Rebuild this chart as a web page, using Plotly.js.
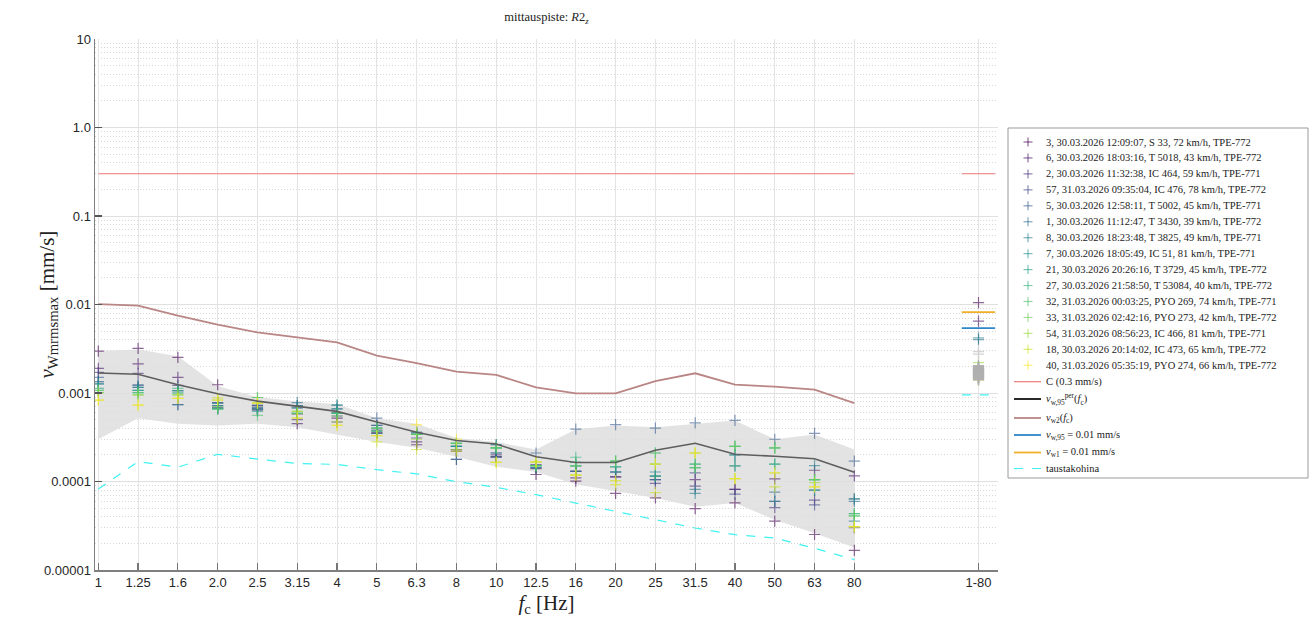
<!DOCTYPE html>
<html><head><meta charset="utf-8">
<script src="https://cdn.plot.ly/plotly-3.0.1.min.js"></script>
<style>html,body{margin:0;padding:0;background:#fff}</style>
</head><body><div id="chart" style="width:1313px;height:624px"></div>
<script>
// ---- categories ----
const bands = ['1','1.25','1.6','2.0','2.5','3.15','4','5','6.3','8','10','12.5','16','20','25','31.5','40','50','63','80'];
const totalLabel = '1-80';

// ---- pass series: 20 band values + 1-80 value ----
const p3  = [0.00298,0.0032,0.00253,0.00124,0.00072,0.00058,0.00052,0.00036,0.00026,0.00022,0.00019,0.00012,0.000101,0.0000733,0.0000654,0.0000495,0.0000574,0.0000357,0.0000252,0.0000167,0.0105];
const p6  = [0.0019,0.00213,0.0015,0.00078,0.00066,0.00045,0.00047,0.00035,0.00028,0.00023,0.00019,0.00014,0.00011,0.000113,0.000105,0.000105,0.0000815,0.000107,0.000134,0.000116,0.0065];
const p2  = [0.00171,0.00167,0.00122,0.00068,0.00064,0.0005,0.00055,0.00038,0.00031,0.000178,0.0002,0.000155,0.00013,0.000113,0.000095,0.0000885,0.0000815,0.0000506,0.0000615,0.00003,0.0019];
const p57 = [0.00134,0.00123,0.00106,0.00072,0.00069,0.00068,0.0006,0.00043,0.00034,0.00025,0.00021,0.000143,0.00013,0.000128,0.000115,0.000125,0.000072,0.0000597,0.0000545,0.0000637,0.0018];
const p5  = [0.0015,0.00116,0.00074,0.00068,0.00066,0.00072,0.00066,0.00052,0.00036,0.00025,0.00026,0.00021,0.00039,0.00044,0.0004,0.00046,0.00049,0.0003,0.00035,0.00017,0.0017];
const p1  = [0.00127,0.00123,0.00074,0.00077,0.00073,0.00078,0.00073,0.00043,0.00036,0.000178,0.00021,0.000143,0.000131,0.000128,0.000105,0.0000815,0.00015,0.000076,0.00008,0.0000597,0.0040];
const p8  = [0.00134,0.00116,0.00106,0.00072,0.00069,0.00072,0.00066,0.00035,0.00034,0.00025,0.00019,0.000143,0.00015,0.000128,0.000128,0.0000733,0.0002,0.0000597,0.000151,0.0000357,0.0042];
const p7  = [0.00127,0.00107,0.001,0.00077,0.00066,0.00068,0.00073,0.0004,0.00034,0.00027,0.00026,0.000151,0.000165,0.000146,0.000115,0.000143,0.0002,0.000157,0.00008,0.0000637,0.0016];
const p21 = [0.00113,0.00107,0.00106,0.00066,0.00062,0.00059,0.00059,0.00037,0.00034,0.00025,0.00024,0.000151,0.00015,0.00017,0.00021,0.000157,0.00025,0.00024,0.000105,0.0000434,0.0015];
const p27 = [0.00107,0.00101,0.00113,0.00066,0.00089,0.00059,0.00059,0.0004,0.00034,0.00027,0.00024,0.000151,0.000188,0.000146,0.000115,0.000143,0.00015,0.000157,0.000105,0.0000408,0.0016];
const p32 = [0.00101,0.00101,0.001,0.00066,0.00056,0.00062,0.00059,0.00037,0.00034,0.00027,0.00024,0.000151,0.000165,0.00017,0.000157,0.000157,0.00025,0.00024,0.000105,0.0000434,0.0015];
const p33 = [0.00107,0.00095,0.00095,0.0007,0.00089,0.00059,0.00055,0.0004,0.00034,0.00027,0.00024,0.000151,0.00015,0.00017,0.00021,0.000143,0.00025,0.00024,0.000105,0.0000408,0.0017];
const p54 = [0.00101,0.00095,0.00095,0.00083,0.00077,0.00052,0.00047,0.00033,0.0003,0.00023,0.000165,0.000167,0.000118,0.000102,0.000157,0.00021,0.000108,0.000125,0.000097,0.0000309,0.0022];
const p18 = [0.00083,0.00073,0.00087,0.00088,0.00077,0.00062,0.00043,0.00028,0.00023,0.00022,0.000165,0.000167,0.000118,0.000092,0.000075,0.00021,0.000108,0.000087,0.000087,0.0000309,0.0015];
const p40 = [0.00083,0.00073,0.00087,0.00083,0.00077,0.00052,0.00043,0.00033,0.00044,0.0003,0.000165,0.000167,0.000118,0.000102,0.000157,0.00021,0.000108,0.000125,0.000087,0.0000309,0.0014];

const passLabels = [
 '3, 30.03.2026 12:09:07, S 33, 72 km/h, TPE-772',
 '6, 30.03.2026 18:03:16, T 5018, 43 km/h, TPE-772',
 '2, 30.03.2026 11:32:38, IC 464, 59 km/h, TPE-771',
 '57, 31.03.2026 09:35:04, IC 476, 78 km/h, TPE-772',
 '5, 30.03.2026 12:58:11, T 5002, 45 km/h, TPE-771',
 '1, 30.03.2026 11:12:47, T 3430, 39 km/h, TPE-772',
 '8, 30.03.2026 18:23:48, T 3825, 49 km/h, TPE-771',
 '7, 30.03.2026 18:05:49, IC 51, 81 km/h, TPE-771',
 '21, 30.03.2026 20:26:16, T 3729, 45 km/h, TPE-772',
 '27, 30.03.2026 21:58:50, T 53084, 40 km/h, TPE-772',
 '32, 31.03.2026 00:03:25, PYO 269, 74 km/h, TPE-771',
 '33, 31.03.2026 02:42:16, PYO 273, 42 km/h, TPE-772',
 '54, 31.03.2026 08:56:23, IC 466, 81 km/h, TPE-771',
 '18, 30.03.2026 20:14:02, IC 473, 65 km/h, TPE-772',
 '40, 31.03.2026 05:35:19, PYO 274, 66 km/h, TPE-772'
];
const passColors = ['#440154','#471365','#472d7b','#3f4788','#375a8c','#2f6c8e','#277f8e','#21918c','#1fa188','#2fb47c','#4ac16d','#6ece58','#9bd93c','#cde11d','#fde725'];

// other passes at 1-80 (gray, overlapping block)
const otherTotalFaint = [0.00293,0.00275];
const otherTotal = [0.00204,0.00199,0.00195,0.00191,0.00187,0.00183,0.00178,0.00174,0.0017,0.00166,0.00162,0.00158,0.00154,0.0015,0.00147,0.00144,0.00141];

// envelope and reference curves
const bandUpper = [0.00298,0.0031,0.0026,0.0012,0.0009,0.0008,0.00075,0.00052,0.00045,0.00031,0.00028,0.00023,0.00039,0.00043,0.00041,0.00045,0.00049,0.0003,0.00034,0.00023];
const bandLower = [0.0003,0.00052,0.00045,0.00043,0.00045,0.00041,0.00034,0.00028,0.00024,0.00019,0.000147,0.000128,0.000093,0.000078,0.000065,0.000052,0.000057,0.000037,0.000026,0.000018];
const vw95per = [0.00168,0.00163,0.00124,0.00098,0.00081,0.00071,0.00062,0.00047,0.00036,0.00029,0.000265,0.00019,0.000164,0.000164,0.000225,0.00027,0.000203,0.000193,0.000181,0.000127];
const vw2 = [0.0101,0.0097,0.00747,0.00591,0.00484,0.00422,0.00374,0.00264,0.00218,0.00174,0.0016,0.00116,0.00099,0.00099,0.00136,0.00167,0.00124,0.00118,0.00109,0.00077];
const background = [0.0000822,0.000168,0.000145,0.000203,0.000179,0.00016,0.000156,0.000136,0.000122,0.0000995,0.0000859,0.000071,0.0000571,0.000046,0.0000377,0.0000298,0.0000251,0.000023,0.0000176,0.0000131,0.00095];
const cLimit = 0.3;
const vw95Total = 0.0054;
const vw1Total = 0.0082;

// reference-line legend labels and styles
const refLabels = ['C (0.3 mm/s)', '<i>v</i><sub>w,95</sub><sup>per</sup>(<i>f</i><sub>c</sub>)', '<i>v</i><sub>w2</sub>(<i>f</i><sub>c</sub>)',
                   '<i>v</i><sub>w,95</sub> = 0.01 mm/s', '<i>v</i><sub>w1</sub> = 0.01 mm/s', 'taustakohina'];
const refColors = ['#ec7a78', '#111111', '#b98585', '#2f86c8', '#f0b02a', '#3ff2f2'];

// ---- positions ----
const xs = bands.map((_, i) => i);
const xT = 22.12;
const half = 0.42;
const xAll = xs.concat([xT]);

const traces = [];
traces.push({x: xs.concat(xs.slice().reverse()), y: bandUpper.concat(bandLower.slice().reverse()),
  type:'scatter', mode:'lines', fill:'toself', fillcolor:'rgba(222,222,222,0.85)', line:{width:0},
  showlegend:false, hoverinfo:'skip'});
traces.push({x: xs.concat([null, xT-half, xT+half]), y: xs.map(()=>cLimit).concat([null,cLimit,cLimit]),
  type:'scatter', mode:'lines', line:{color:refColors[0], width:1.2}, name:refLabels[0]});
traces.push({x: xs, y: vw2, type:'scatter', mode:'lines', line:{color:refColors[2], width:1.8}, name:refLabels[2]});
traces.push({x: xs.concat([null, xT-half, xT+half]), y: background.slice(0,20).concat([null, background[20], background[20]]),
  type:'scatter', mode:'lines', line:{color:refColors[5], width:1.2, dash:'dash'}, name:refLabels[5]});
const series = [p3,p6,p2,p57,p5,p1,p8,p7,p21,p27,p32,p33,p54,p18,p40];
series.forEach((vals, k) => {
  traces.push({x: xAll, y: vals, type:'scatter', mode:'markers', name: passLabels[k],
    marker:{symbol:'cross-thin-open', size:8, color:passColors[k], opacity:0.6, line:{color:passColors[k], width:1.2}}});
});
traces.push({x: otherTotalFaint.map(()=>xT), y: otherTotalFaint, type:'scatter', mode:'markers', name:'muut',
  marker:{symbol:'cross-thin-open', size:8, color:'#d2d2d2', line:{color:'#d2d2d2', width:1.3}}});
traces.push({x: otherTotal.map(()=>xT), y: otherTotal, type:'scatter', mode:'markers', name:'muut ',
  marker:{symbol:'cross-thin-open', size:8, color:'#b0b0b0', line:{color:'#b0b0b0', width:1.4}}});
traces.push({x: xs, y: vw95per, type:'scatter', mode:'lines', line:{color:'#5e5e5e', width:1.6}, name:refLabels[1]});
traces.push({x: [xT-half, xT+half], y: [vw95Total, vw95Total], type:'scatter', mode:'lines',
  line:{color:refColors[3], width:1.8}, name:refLabels[3]});
traces.push({x: [xT-half, xT+half], y: [vw1Total, vw1Total], type:'scatter', mode:'lines',
  line:{color:refColors[4], width:1.8}, name:refLabels[4]});

// ---- custom legend (paper coordinates from pixel positions) ----
const L = 95, R = 998, T = 39, B = 570;
const px = v => (v - L) / (R - L);
const py = v => (B - v) / (B - T);
const shapes = [];
const annotations = [];
shapes.push({type:'rect', xref:'paper', yref:'paper', x0:px(1008), x1:px(1308), y0:py(128), y1:py(478),
  line:{color:'#9a9a9a', width:1}, fillcolor:'#ffffff', layer:'above'});
const rowY = passLabels.map((_, i) => 142 + 15.95 * i).concat([381.7, 399, 418, 435, 452.5, 468.5]);
passLabels.forEach((lab, i) => {
  const y = rowY[i];
  shapes.push({type:'line', xref:'paper', yref:'paper', x0:px(1023.5), x1:px(1032.5), y0:py(y), y1:py(y),
    line:{color:passColors[i], width:1.2}, opacity:0.6, layer:'above'});
  shapes.push({type:'line', xref:'paper', yref:'paper', x0:px(1028), x1:px(1028), y0:py(y-4.5), y1:py(y+4.5),
    line:{color:passColors[i], width:1.2}, opacity:0.6, layer:'above'});
  annotations.push({xref:'paper', yref:'paper', x:px(1044), y:py(y), xanchor:'left', yanchor:'middle', showarrow:false,
    text: lab, font:{family:'Liberation Serif, serif', size:10.5, color:'#222'}});
});
refLabels.forEach((lab, j) => {
  const y = rowY[15 + j];
  shapes.push({type:'line', xref:'paper', yref:'paper', x0:px(1014), x1:px(1041), y0:py(y), y1:py(y),
    line:{color:refColors[j], width: j===0||j===5 ? 1.2 : 1.8, dash: j===5 ? 'dash' : 'solid'}, layer:'above'});
  annotations.push({xref:'paper', yref:'paper', x:px(1044), y:py(y), xanchor:'left', yanchor:'middle', showarrow:false,
    text: lab, font:{family:'Liberation Serif, serif', size:10.5, color:'#222'}});
});
// y-axis title
annotations.push({xref:'paper', yref:'paper', x:px(47), y:0.5, xanchor:'center', yanchor:'middle', showarrow:false,
  textangle:-90, text:'<i>v</i><sub>Wmrmsmax</sub> [mm/s]', font:{family:'Liberation Serif, serif', size:21, color:'#222'}});

const yTicks = [1e-5,1e-4,1e-3,1e-2,1e-1,1,10];
const yTickText = ['0.00001','0.0001','0.001','0.01','0.1','1.0','10'];

const layout = {
  width:1313, height:624,
  margin:{l:L, r:1313-R, t:T, b:624-B},
  paper_bgcolor:'#fff', plot_bgcolor:'#fff',
  font:{family:'Liberation Sans, Arial, sans-serif', size:13, color:'#262626'},
  title:{text:'mittauspiste: <i>R</i>2<sub><i>z</i></sub>', font:{family:'Liberation Serif, serif', size:12.5, color:'#222'},
    x:0.5, xanchor:'center', y:0.973, yanchor:'middle', xref:'paper', yref:'container'},
  xaxis:{range:[-0.083, 22.61], tickmode:'array', tickvals: xAll, ticktext: bands.concat([totalLabel]),
    showgrid:true, gridcolor:'#e4e4e4', gridwidth:1, zeroline:false,
    showline:true, linecolor:'#7f7f7f', linewidth:1.5, ticks:'inside', ticklen:7, tickcolor:'#777', tickwidth:1.2,
    tickfont:{size:13}, fixedrange:true,
    title:{text:'<i>f</i><sub>c</sub> [Hz]', font:{family:'Liberation Serif, serif', size:21, color:'#222'}, standoff:6}},
  yaxis:{type:'log', range:[-5,1], tickmode:'array', tickvals:yTicks, ticktext:yTickText,
    showgrid:true, gridcolor:'#e0e0e0', gridwidth:1, zeroline:false,
    showline:true, linecolor:'#7f7f7f', linewidth:1.5, ticks:'inside', ticklen:7, tickcolor:'#555', tickwidth:1.2,
    minor:{dtick:'D1', showgrid:true, gridcolor:'#d6d6d6', griddash:'1px,2px', gridwidth:1, ticks:''},
    tickfont:{size:13}, fixedrange:true},
  shapes: shapes,
  annotations: annotations,
  showlegend:false
};

Plotly.newPlot('chart', traces, layout, {displayModeBar:false, staticPlot:true});
</script></body></html>
